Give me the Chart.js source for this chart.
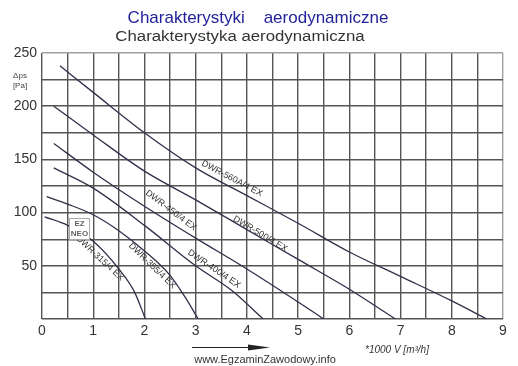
<!DOCTYPE html>
<html>
<head>
<meta charset="utf-8">
<script src="https://cdn.jsdelivr.net/npm/chart.js@4.4.1/dist/chart.umd.min.js"></script>
<style>
  html, body { margin: 0; padding: 0; background: #fff; }
  canvas { display: block; }
</style>
</head>
<body>
<canvas id="chart" width="518" height="366"></canvas>
<script>
// tick labels
const X_TICKS = [0, 1, 2, 3, 4, 5, 6, 7, 8, 9];
const Y_TICKS = [50, 100, 150, 200, 250];

// curve names
const CURVE_NAMES = ['DWR-560A/4 EX', 'DWR-500/4 EX', 'DWR-450/4 EX', 'DWR-400/4 EX', 'DWR-355/4 EX', 'DWR-315/4 EX'];

// V [*1000 m3/h] / dps [Pa]
const flow560 = [0.35, 1, 2, 3, 4, 5, 6, 7, 8, 8.68];
const dps560  = [238, 213, 175, 142, 116, 90, 63, 40, 17, 0];
const flow500 = [0.23, 1, 2, 3, 4, 5, 6, 6.9];
const dps500  = [200, 173, 139, 112, 84, 56, 28, 0];
const flow450 = [0.23, 1, 2, 3, 4, 5, 5.5];
const dps450  = [165, 138, 106, 76, 47, 16, 0];
const flow400 = [0.23, 1, 2, 3, 3.7, 4.32];
const dps400  = [142, 123, 88, 50, 27, 0];
const flow355 = [0.09, 0.5, 1, 1.5, 2, 2.5, 2.8, 3.05];
const dps355  = [115, 108, 98, 83, 64, 41, 20, 0];
const flow315 = [0.05, 0.5, 1, 1.5, 1.8, 2.02];
const dps315  = [96, 88, 73, 47, 26, 0];

const FLOWS = [flow560, flow500, flow450, flow400, flow355, flow315];
const PRESSURES = [dps560, dps500, dps450, dps400, dps355, dps315];

// where the curve names sit (data coords) and their angle in degrees
const LABEL_AT = [
  { x: 3.71, y: 132, rot: 28 },
  { x: 4.26, y: 80, rot: 31 },
  { x: 2.52, y: 102, rot: 37 },
  { x: 3.36, y: 47, rot: 34 },
  { x: 2.15, y: 50, rot: 44 },
  { x: 1.13, y: 57, rot: 43 },
];

const GRID = '#555555';
const FRAME = '#a0a0a0';
const CURVE = '#30304a';
const FONT = '"Liberation Sans", Arial, sans-serif';

function toPoints(xs, ys) {
  return xs.map(function (x, i) { return { x: x, y: ys[i] }; });
}

// titles, curve names, axis notes
const decorations = {
  id: 'decorations',
  afterDraw: function (chart) {
    const c = chart.ctx;
    const sx = chart.scales.x;
    const sy = chart.scales.y;
    c.save();

    c.textAlign = 'center';
    c.textBaseline = 'alphabetic';
    c.fillStyle = '#22229a';
    c.font = '17px ' + FONT;
    c.fillText('Charakterystyki    aerodynamiczne', 258, 23);

    // the scan is a bit stretched sideways
    c.save();
    c.fillStyle = '#333333';
    c.font = '14px ' + FONT;
    c.translate(240, 41);
    c.scale(1.2, 1);
    c.fillText('Charakterystyka aerodynamiczna', 0, 0);
    c.restore();

    // y unit
    c.font = '8px ' + FONT;
    c.fillStyle = '#444444';
    c.fillText('\u0394ps', 20, 78);
    c.fillText('[Pa]', 20, 88);

    // curve names
    c.font = '9px ' + FONT;
    c.fillStyle = '#333333';
    c.textBaseline = 'middle';
    LABEL_AT.forEach(function (p, i) {
      c.save();
      c.translate(sx.getPixelForValue(p.x), sy.getPixelForValue(p.y));
      c.rotate(p.rot * Math.PI / 180);
      c.fillText(CURVE_NAMES[i], 0, 0);
      c.restore();
    });

    // small "EZ" stamp
    c.fillStyle = '#ffffff';
    c.fillRect(69, 218, 21, 22);
    c.setLineDash([1, 1]);
    c.strokeStyle = '#555555';
    c.lineWidth = 1;
    c.strokeRect(69.5, 218.5, 20, 21);
    c.setLineDash([]);
    c.fillStyle = '#666666';
    c.font = 'bold 8px ' + FONT;
    c.fillText('EZ', 79.5, 224);
    c.fillText('NEO', 79.5, 234);

    // arrow under the x axis
    c.strokeStyle = '#222222';
    c.fillStyle = '#222222';
    c.lineWidth = 1;
    c.beginPath();
    c.moveTo(192, 347.5);
    c.lineTo(250, 347.5);
    c.stroke();
    c.beginPath();
    c.moveTo(248, 344.5);
    c.lineTo(270, 347.5);
    c.lineTo(248, 350.5);
    c.closePath();
    c.fill();

    c.textBaseline = 'alphabetic';
    c.fillStyle = '#333333';
    c.font = 'italic 10px ' + FONT;
    c.textAlign = 'left';
    c.fillText('*1000 V [m\u00b3/h]', 365, 353);

    c.font = '11px ' + FONT;
    c.textAlign = 'center';
    c.fillText('www.EgzaminZawodowy.info', 265, 363);

    c.restore();
  },
};

new Chart(document.getElementById('chart'), {
  type: 'line',
  data: {
    datasets: CURVE_NAMES.map(function (name, i) {
      return {
        label: name,
        data: toPoints(FLOWS[i], PRESSURES[i]),
        borderColor: CURVE,
        borderWidth: 1.3,
        pointRadius: 0,
        fill: false,
        cubicInterpolationMode: 'monotone',
      };
    }),
  },
  options: {
    responsive: false,
    animation: false,
    events: [],
    layout: {
      padding: { left: 0, right: 15, top: 53, bottom: 25 },
    },
    plugins: {
      legend: { display: false },
      tooltip: { enabled: false },
    },
    scales: {
      x: {
        type: 'linear',
        min: 0,
        max: 9,
        afterFit: function (scale) { scale.height = 22; },
        afterBuildTicks: function (scale) {
          const t = [];
          for (let v = 0; v <= 18; v++) t.push({ value: v / 2 });
          scale.ticks = t;
        },
        ticks: {
          autoSkip: false,
          maxRotation: 0,
          padding: 4,
          color: '#333333',
          font: { family: FONT, size: 14 },
          callback: function (v) { return X_TICKS.indexOf(v) >= 0 ? String(v) : ''; },
        },
        grid: {
          drawTicks: false,
          lineWidth: 1.4,
          color: function (ctx) { return ctx.tick && ctx.tick.value === 9 ? FRAME : GRID; },
        },
        border: { display: false },
      },
      y: {
        type: 'linear',
        min: 0,
        max: 250,
        afterFit: function (scale) { scale.width = 42; },
        afterBuildTicks: function (scale) {
          const t = [];
          for (let v = 0; v <= 250; v += 25) t.push({ value: v });
          scale.ticks = t;
        },
        ticks: {
          autoSkip: false,
          padding: 5,
          color: '#333333',
          font: { family: FONT, size: 14 },
          callback: function (v) { return Y_TICKS.indexOf(v) >= 0 ? String(v) : ''; },
        },
        grid: {
          drawTicks: false,
          lineWidth: 1.4,
          color: function (ctx) { return ctx.tick && ctx.tick.value === 250 ? FRAME : GRID; },
        },
        border: { display: false },
      },
    },
  },
  plugins: [decorations],
});
</script>
</body>
</html>
